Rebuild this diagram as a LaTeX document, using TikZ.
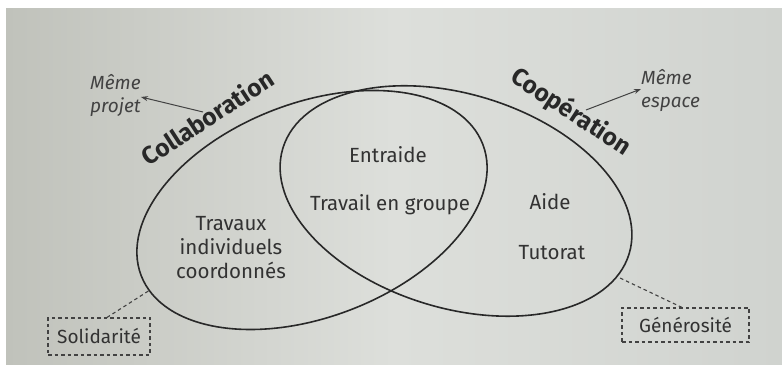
\documentclass[tikz,border=0pt]{standalone}
\usepackage{fontspec}
\setmainfont{Fira Sans}
\usetikzlibrary{arrows.meta}
\definecolor{paperL}{RGB}{192,194,187}
\definecolor{paperM}{RGB}{221,223,219}
\definecolor{paperR}{RGB}{208,211,207}
\definecolor{ink}{RGB}{40,40,40}
\definecolor{txt}{RGB}{50,50,50}
\definecolor{soft}{RGB}{66,66,66}
\tikzset{
  setline/.style={draw=ink, line width=1.6pt},
  lbl/.style={text=txt, font=\fontsize{20.5}{24}\selectfont, align=center, inner sep=0pt},
  title/.style={text=ink, font=\fontsize{24.5}{28}\selectfont\bfseries, inner sep=0pt},
  note/.style={text=soft, font=\fontsize{19}{23}\selectfont\itshape, align=left, inner sep=0pt},
  arr/.style={draw=soft, line width=1pt, -{Stealth[length=7pt,width=5pt]}},
  valbox/.style={draw=soft, dash pattern=on 3.5pt off 3pt, line width=1.1pt, text=txt,
     font=\fontsize{19}{22}\selectfont, minimum width=#1, minimum height=36pt, inner sep=0pt},
  link/.style={draw=soft, dash pattern=on 3.5pt off 3pt, line width=1.1pt}
}
\begin{document}
\begin{tikzpicture}[x=1pt,y=1pt]
\useasboundingbox (0,0) rectangle (782,374);
\fill[white] (0,0) rectangle (782,374);
\shade[left color=paperL, right color=paperR, middle color=paperM] (6,9) rectangle (782,365);
% ellipses
\draw[setline, rotate around={21:(312,164)}] (312,164) ellipse [x radius=183, y radius=107];
\draw[setline, rotate around={-17:(456,173)}] (456,173) ellipse [x radius=181, y radius=107];
% titles
\node[title, rotate=33] (collab) at (207,257) {Collaboration};
\node[title, rotate=-33] (coop) at (571,262) {Coopération};
% side notes
\node[note, anchor=west] (projet) at (90,278) {Même\\projet};
\node[note, anchor=west] (espace) at (641,283) {Même\\espace};
\coordinate (collabA) at (203,262);
\coordinate (coopA) at (586,264);
\draw[arr] (collabA) -- (projet.east |- 0,277);
\draw[arr] (coopA) -- (espace.west |- 0,285);
% region labels
\node[lbl] (entraide) at (388,219) {Entraide};
\node[lbl] (groupe) at (390,169) {Travail en groupe};
\node[lbl] (travaux) at (231,126) {Travaux\\individuels\\coordonnés};
\node[lbl] (aide) at (550,172) {Aide};
\node[lbl] (tutorat) at (552,121) {Tutorat};
% value boxes
\node[valbox=102pt, minimum height=37pt] (solid) at (99,37.5) {Solidarité};
\node[valbox=127pt, minimum height=34pt] (gener) at (685.5,49) {Générosité};
\coordinate (solidE) at (150,84);
\coordinate (generE) at (620,96);
\draw[link] (solid.north -| 107,0) -- (solidE);
\draw[link] (gener.north -| 682,0) -- (generE);
\end{tikzpicture}
\end{document}
